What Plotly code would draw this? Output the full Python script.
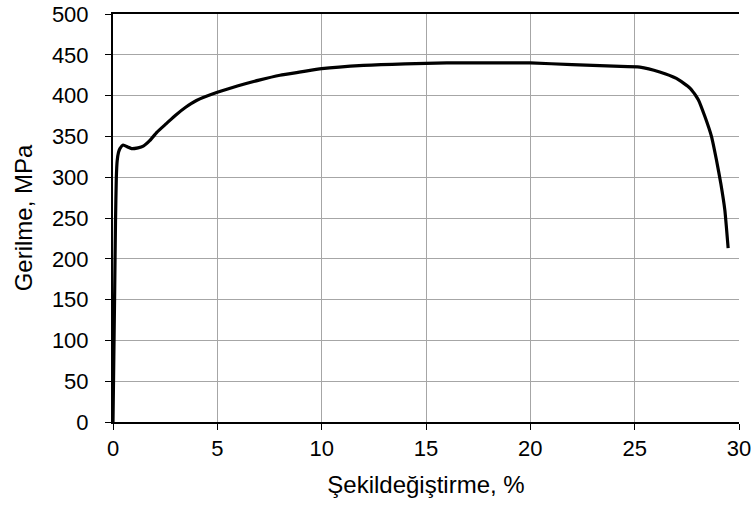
import plotly.graph_objects as go

strain = [0.0, 0.04, 0.08, 0.12, 0.16, 0.2, 0.26, 0.33, 0.49, 0.7, 0.89, 1.2, 1.45, 1.77, 2.1, 2.57, 3.0,
          3.5, 4.0, 5.0, 6.0, 7.0, 8.0, 9.0, 10.0, 12.0, 14.0, 16.0, 18.0, 20.0, 22.0, 24.0, 25.25,
          26.2, 27.0, 27.66, 28.05, 28.37, 28.68, 28.92, 29.13, 29.32, 29.48]
stress = [0, 80, 160, 245, 300, 320, 330, 335, 339.5, 337, 335, 336, 338, 345, 355, 366, 376,
          386, 394, 404, 412, 419, 425, 429, 433, 437, 439, 440, 440, 440, 438, 436, 435,
          429, 421, 409, 395, 374, 350, 321, 292, 260, 213]

x_ticks = [0, 5, 10, 15, 20, 25, 30]
y_ticks = [0, 50, 100, 150, 200, 250, 300, 350, 400, 450, 500]

fig = go.Figure()
fig.add_trace(go.Scatter(x=strain, y=stress, mode="lines",
                         line=dict(color="black", width=3.2, shape="spline", smoothing=0.5),
                         showlegend=False, hoverinfo="skip"))

font_family = "Liberation Sans, Arial, sans-serif"
fig.update_layout(
    width=753, height=508,
    margin=dict(l=113, r=14, t=14, b=86, autoexpand=False),
    paper_bgcolor="white", plot_bgcolor="white",
    font=dict(family=font_family, size=23, color="black"),
    xaxis=dict(range=[0, 30], tickvals=x_ticks, showgrid=True, gridcolor="#a6a6a6", gridwidth=1,
               showline=True, linecolor="black", linewidth=2, mirror=True,
               ticks="outside", ticklen=6, tickcolor="black", tickwidth=1,
               zeroline=False, automargin=False, tickfont=dict(size=22),
               title=dict(text="Şekildeğiştirme, %", font=dict(size=24), standoff=16)),
    yaxis=dict(range=[0, 500], tickvals=y_ticks, showgrid=True, gridcolor="#a6a6a6", gridwidth=1,
               showline=True, linecolor="black", linewidth=2,
               ticks="outside", ticklen=6, tickcolor="black", tickwidth=1,
               zeroline=False, automargin=False, tickfont=dict(size=22), ticklabelstandoff=12,
               title=dict(text="Gerilme, MPa", font=dict(size=24), standoff=12)),
)
fig.write_html("out.html")
